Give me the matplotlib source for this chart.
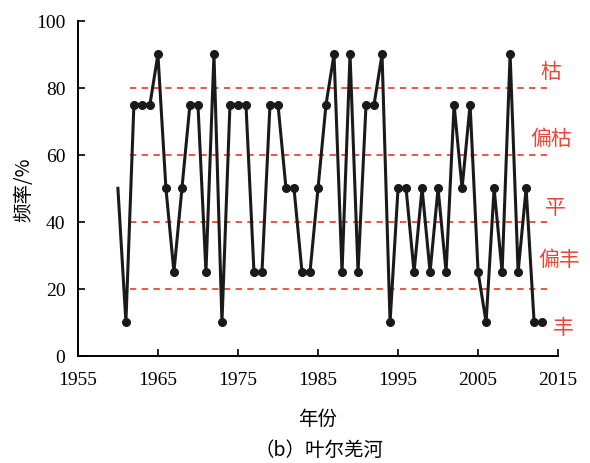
import numpy as np
import matplotlib.pyplot as plt

plt.rcParams['font.family'] = ['Liberation Serif', 'Noto Sans CJK SC']

# data
years = list(range(1960, 2014))
freq = [50, 10, 75, 75, 75, 90, 50, 25, 50, 75,
        75, 25, 90, 10, 75, 75, 75, 25, 25, 75,
        75, 50, 50, 25, 25, 50, 75, 90, 25, 90,
        25, 75, 75, 90, 10, 50, 50, 25, 50, 25,
        50, 25, 75, 50, 75, 25, 10, 50, 25, 90,
        25, 50, 10, 10]
levels = [80, 60, 40, 20]
grade_labels = ['枯', '偏枯', '平', '偏丰', '丰']
grade_y = [85, 65, 44.5, 29, 8.5]
grade_x = [2014.1, 2014.2, 2014.6, 2015.2, 2015.6]

red = '#e8483a'
cjk = ['Noto Sans CJK SC', 'DejaVu Sans']

fig = plt.figure(figsize=(5.9, 4.64), dpi=100)
ax = fig.add_axes([0.132, 0.231, 0.814, 0.722])

for lv in levels:
    ax.plot([1961.5, 2013.6], [lv, lv], color=red, linestyle=(0, (3.5, 3)),
            linewidth=1.3, zorder=1)

ax.plot(years, freq, color='#1a1a1a', linewidth=2.2, marker='o',
        markersize=5.5, markevery=list(range(1, len(years))), zorder=3)

for lab, gx, gy in zip(grade_labels, grade_x, grade_y):
    ax.text(gx, gy, lab, color=red, fontsize=15, family=cjk,
            ha='center', va='center', clip_on=False)

ax.set_xlim(1955, 2015)
ax.set_ylim(0, 100)
ax.set_xticks(range(1955, 2016, 10))
ax.set_yticks(range(0, 101, 20))
ax.tick_params(direction='in', length=5, width=1.2, labelsize=14)
ax.tick_params(axis='x', pad=11)
ax.tick_params(axis='y', pad=9)
for s in ['top', 'right']:
    ax.spines[s].set_visible(False)
for s in ['left', 'bottom']:
    ax.spines[s].set_linewidth(1.4)

ax.set_ylabel('频率/%', fontsize=14, family=cjk, labelpad=1)
ax.set_xlabel('年份', fontsize=14, family=cjk, labelpad=14)
fig.text(0.54, 0.03, '（b）叶尔羌河', fontsize=14, family=cjk, ha='center', va='center')

fig.savefig('out.png', dpi=100)
